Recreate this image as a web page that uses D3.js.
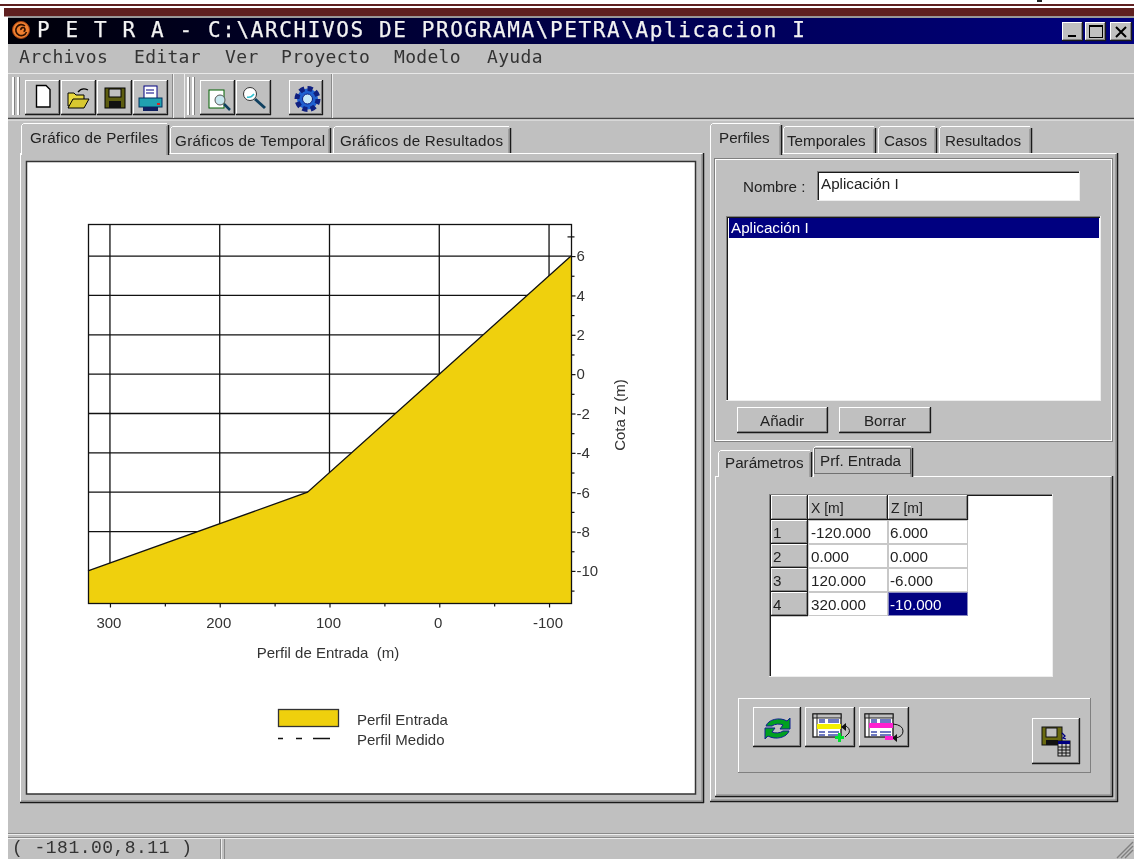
<!DOCTYPE html>
<html><head><meta charset="utf-8">
<script src="https://cdn.jsdelivr.net/npm/d3@7"></script>
<style>html,body{margin:0;padding:0;background:#fff;overflow:hidden}svg{display:block;filter:blur(0.35px)}</style>
</head><body><svg id="app" width="1134" height="859"></svg>
<script>
// ---- chart data ----
const profileX = [-120, 0, 120, 320];
const profileZ = [6, 0, -6, -10];
const xMajorTicks = [300, 200, 100, 0, -100];
const xMinorTicks = [250, 150, 50, -50];
const zMajorTicks = [6, 4, 2, 0, -2, -4, -6, -8, -10];
const zMinorTicks = [7, 5, 3, 1, -1, -3, -5, -7, -9, -11];
const xDomain = [320, -120];
const zDomain = [-11.63, 7.63];
// ---- interface text ----
const titleText = "P E T R A - C:\\ARCHIVOS DE PROGRAMA\\PETRA\\Aplicacion I";
const menuItems = ["Archivos", "Editar", "Ver", "Proyecto", "Modelo", "Ayuda"];
const chartTabs = ["Gráfico de Perfiles", "Gráficos de Temporal", "Gráficos de Resultados"];
const dataTabs = ["Perfiles", "Temporales", "Casos", "Resultados"];
const subTabs = ["Parámetros", "Prf. Entrada"];
const tableHeaders = ["X [m]", "Z [m]"];
const profileName = "Aplicación I";
const statusText = "( -181.00,8.11 )";

const svg = d3.select("#app");
const GREY="#c0c0c0", DARK="#808080", LIGHT="#ffffff", BLACK="#1a1a1a", NAVY="#000080";
const SANS="'Liberation Sans',Arial,sans-serif", MONO="'DejaVu Sans Mono',monospace", CMONO="'Liberation Mono',monospace";
const UI=15.2;
const hyphenLocale=d3.formatLocale({decimal:".",thousands:"",grouping:[3],currency:["",""],minus:"-"});

function rect(g,x,y,w,h,fill,stroke){return g.append("rect").attr("x",x).attr("y",y).attr("width",w).attr("height",h).attr("fill",fill||"none").attr("stroke",stroke||"none");}
function line(g,x1,y1,x2,y2,c,w){return g.append("line").attr("x1",x1).attr("y1",y1).attr("x2",x2).attr("y2",y2).attr("stroke",c).attr("stroke-width",w||1);}
function text(g,s,x,y,o={}){const t=g.append("text").attr("x",x).attr("y",y).text(s).attr("font-family",o.font||SANS).attr("font-size",o.size||UI).attr("fill",o.fill||"#222");if(o.anchor)t.attr("text-anchor",o.anchor);if(o.len)t.attr("textLength",o.len).attr("lengthAdjust","spacing");return t;}
function raised(g,x,y,w,h,fill){
  rect(g,x,y,w,h,fill||GREY);
  line(g,x,y+.5,x+w,y+.5,LIGHT);line(g,x+.5,y,x+.5,y+h,LIGHT);
  line(g,x,y+h-.5,x+w,y+h-.5,BLACK,1.3);line(g,x+w-.5,y,x+w-.5,y+h,BLACK,1.3);
  line(g,x+1,y+h-1.5,x+w-1,y+h-1.5,DARK);line(g,x+w-1.5,y+1,x+w-1.5,y+h-1,DARK);
}
function sunken(g,x,y,w,h,fill){
  rect(g,x,y,w,h,fill||LIGHT);
  line(g,x,y+.5,x+w,y+.5,DARK);line(g,x+.5,y,x+.5,y+h,DARK);
  line(g,x+1,y+1.5,x+w-1,y+1.5,BLACK);line(g,x+1.5,y+1,x+1.5,y+h-1,BLACK);
  line(g,x,y+h-.5,x+w,y+h-.5,"#eee");line(g,x+w-.5,y,x+w-.5,y+h,"#eee");
}
function tab(g,x,y,w,h){
  g.append("path").attr("d",`M${x},${y+h}V${y+2}L${x+2},${y}H${x+w-2}L${x+w},${y+2}V${y+h}Z`).attr("fill",GREY);
  g.append("path").attr("d",`M${x+.5},${y+h}V${y+2.5}L${x+2.5},${y+.5}H${x+w-2}`).attr("fill","none").attr("stroke",LIGHT);
  line(g,x+w-.5,y+2,x+w-.5,y+h,BLACK,1.5);line(g,x+w-2,y+3,x+w-2,y+h,DARK);
}
function panel(g,x,y,w,h){
  rect(g,x,y,w,h,GREY);
  line(g,x,y+.5,x+w,y+.5,LIGHT);line(g,x+.5,y,x+.5,y+h,LIGHT);
  line(g,x,y+h-.5,x+w,y+h-.5,BLACK,1.5);line(g,x+w-.5,y,x+w-.5,y+h,BLACK,1.5);
  line(g,x+1,y+h-2,x+w-1,y+h-2,DARK);line(g,x+w-2,y+1,x+w-2,y+h-1,DARK);
}

// ---- page & window ----
rect(svg,0,0,1134,859,"#fff");
rect(svg,0,4,1134,2,"#5f2020");
rect(svg,4,8,1130,8.5,"#5f2020");
rect(svg,1037,0,5,2,"#222");
rect(svg,8,16.5,1126,842.5,GREY);
line(svg,8,17,1134,17,"#8f8f8f",1.5);

const titleGrad=svg.append("defs").append("linearGradient").attr("id","tb");
titleGrad.append("stop").attr("offset","0").attr("stop-color","#000008");
titleGrad.append("stop").attr("offset","0.5").attr("stop-color","#000048");
titleGrad.append("stop").attr("offset","1").attr("stop-color",NAVY);
rect(svg,8,18,1126,26,"url(#tb)");
// app icon
svg.append("circle").attr("cx",21).attr("cy",30).attr("r",8.5).attr("fill","#f08030").attr("stroke","#a04010");
svg.append("path").attr("d","M25,26a5.5,5.5 0 1 0 1.5,6M21,30a2,2 0 1 1 2.5,1.5").attr("fill","none").attr("stroke","#301000").attr("stroke-width",1.6);
text(svg,titleText,37,37,{font:MONO,size:21,fill:"#f2f2f2",len:768}).attr("stroke","#f2f2f2").attr("stroke-width",.25);
// window buttons
[[1062,21],[1085,21],[1110,22]].forEach(([x,w])=>raised(svg,x,22,w,19));
rect(svg,1068,35,8,2,"#000");
rect(svg,1089.5,25.5,13,12,"none","#000");rect(svg,1089,25,14,2,"#000");
svg.append("path").attr("d","M1116,27L1126,37M1126,27L1116,37").attr("stroke","#000").attr("stroke-width",2);

// ---- menu ----
const menuX=[19,134,225,281,394,487];
menuItems.forEach((m,i)=>text(svg,m,menuX[i],63,{font:MONO,size:18,fill:"#333",len:m.length*11.1}));
line(svg,8,73.5,1134,73.5,"#e8e8e8");
line(svg,8,118.5,1134,118.5,"#444",1.5);
line(svg,8,120,1134,120,"#eee",1);

// ---- toolbars ----
line(svg,172.5,74,172.5,118,"#8a8a8a");line(svg,173.5,74,173.5,118,"#eee");
line(svg,184.5,74,184.5,118,"#eee");line(svg,331.5,74,331.5,118,"#8a8a8a");
line(svg,332.5,74,332.5,118,"#eee");
[12,17,187,192].forEach(x=>{rect(svg,x,77,2,38,LIGHT);rect(svg,x+2,77,1,38,DARK);});
[[25,35],[61,35],[97,35],[133,35],[200,35],[236,35],[289,34]].forEach(([x,w])=>raised(svg,x,80,w,35));
// new
svg.append("path").attr("d","M36.5,85.5H46L50,89.5V107H36.5Z").attr("fill","#fff").attr("stroke","#000").attr("stroke-width",1.4);
// open
svg.append("path").attr("d","M68,93H74L76,95H84V106H68Z").attr("fill","#e8d840").attr("stroke","#000");
svg.append("path").attr("d","M68,108L73,99H89L84,108Z").attr("fill","#d8c830").attr("stroke","#000");
svg.append("path").attr("d","M78,92Q82,87 88,90").attr("fill","none").attr("stroke","#000").attr("stroke-width",1.3);
// save
rect(svg,105,88,20,20,"#5c5c10","#000");rect(svg,109,89,12,8,"#c0c0c0","#000");rect(svg,109,101,12,7,"#111");
// print
rect(svg,144,86,13,14,"#fff","#000080");rect(svg,139,98,23,9,"#20a0b0","#003060");rect(svg,143,107,15,4,"#102060");
line(svg,146,90,154,90,"#000080");line(svg,146,93,154,93,"#000080");rect(svg,157,103,3,2,"#e02020");
// preview
rect(svg,209,90,15,18,"#fff","#006000");svg.append("circle").attr("cx",220).attr("cy",100).attr("r",5).attr("fill","#c8e8f0").attr("stroke","#555");
line(svg,224,104,230,110,"#104060",2.5);
// find
svg.append("circle").attr("cx",250).attr("cy",94).attr("r",6.5).attr("fill","#fff").attr("stroke","#333");
svg.append("path").attr("d","M247,97Q251,98 254,94").attr("stroke","#30c0d0").attr("stroke-width",1.5).attr("fill","none");
line(svg,255,99,265,108,"#104060",3);
// gear
svg.append("circle").attr("cx",307.5).attr("cy",99).attr("r",10.5).attr("fill","#2060d0").attr("stroke","#102080").attr("stroke-width",5).attr("stroke-dasharray","5 3.2");
svg.append("circle").attr("cx",307.5).attr("cy",99).attr("r",5).attr("fill","#c8e8f8").attr("stroke","#102080");

// ---- left tab control ----
panel(svg,20,153,684,650);
tab(svg,170,126,161,27);tab(svg,333,126,178,27);tab(svg,21,123,148,32);
text(svg,chartTabs[0],30,143,{len:128});
text(svg,chartTabs[1],175,146,{len:150});
text(svg,chartTabs[2],340,146,{len:163});
rect(svg,26.5,161.5,669,632.5,LIGHT,"#333").attr("stroke-width",1.5);

// ---- chart ----
const plot={left:88,right:571,top:224,bottom:603};
const x=d3.scaleLinear().domain(xDomain).range([plot.left,plot.right]);
const z=d3.scaleLinear().domain(zDomain).range([plot.bottom,plot.top]);
const chart=svg.append("g");
const profile=profileX.map((v,i)=>({x:v,z:profileZ[i]}));
const grid=chart.append("g");
grid.selectAll("line.v").data(xMajorTicks).join("line").attr("class","v")
  .attr("x1",d=>x(d)).attr("x2",d=>x(d)).attr("y1",plot.top).attr("y2",plot.bottom).attr("stroke","#111").attr("stroke-width",1.3);
grid.selectAll("line.h").data(zMajorTicks).join("line").attr("class","h")
  .attr("y1",d=>z(d)).attr("y2",d=>z(d)).attr("x1",plot.left).attr("x2",plot.right).attr("stroke","#111").attr("stroke-width",1.3);
const zMinorG=chart.append("g").attr("transform",`translate(${plot.right-3.5},0)`)
  .call(d3.axisRight(z).tickValues(zMinorTicks).tickSize(7).tickFormat(""));
chart.append("path").datum(profile)
  .attr("d",d3.area().x(d=>x(d.x)).y0(plot.bottom).y1(d=>z(d.z)))
  .attr("fill","#efd00d");
chart.append("path").datum(profile)
  .attr("d",d3.line().x(d=>x(d.x)).y(d=>z(d.z)))
  .attr("fill","none").attr("stroke","#111").attr("stroke-width",1.3);
rect(chart,plot.left+.5,plot.top+.5,plot.right-plot.left,plot.bottom-plot.top,"none","#111").attr("stroke-width",1.3);

const xAxisG=chart.append("g").attr("transform",`translate(0,${plot.bottom+.5})`)
  .call(d3.axisBottom(x).tickValues(xMajorTicks).tickSize(4).tickPadding(10).tickFormat(hyphenLocale.format("d")));
const xMinorG=chart.append("g").attr("transform",`translate(0,${plot.bottom+.5})`)
  .call(d3.axisBottom(x).tickValues(xMinorTicks).tickSize(3).tickFormat(""));
const zAxisG=chart.append("g").attr("transform",`translate(${plot.right+.5},0)`)
  .call(d3.axisRight(z).tickValues(zMajorTicks).tickSize(4).tickPadding(1).tickFormat(hyphenLocale.format("d")));
[xAxisG,xMinorG,zAxisG,zMinorG].forEach(g=>{
  g.select(".domain").remove();
  g.selectAll("line").attr("stroke","#111").attr("stroke-width",1.2);
  g.selectAll("text").attr("font-family",SANS).attr("font-size",15).attr("fill","#333");
});
xAxisG.selectAll("text").attr("dx",-1.5);
text(chart,"Perfil de Entrada  (m)",328,658,{anchor:"middle",size:15,fill:"#333"}).attr("xml:space","preserve");
text(chart,"Cota Z (m)",0,0,{anchor:"middle",size:15,fill:"#333"}).attr("transform","translate(625,415) rotate(-90)");

// legend
rect(chart,278.5,709.5,60,17,"#efd00d","#333").attr("stroke-width",1.3);
chart.append("line").attr("x1",278).attr("x2",330).attr("y1",738.5).attr("y2",738.5).attr("stroke","#111").attr("stroke-width",1.3).attr("stroke-dasharray","5 13 6 11 17");
text(chart,"Perfil Entrada",357,725,{size:15,fill:"#333"});
text(chart,"Perfil Medido",357,745,{size:15,fill:"#333"});

// ---- right tab control ----
panel(svg,710,153,408,649);
tab(svg,783,126,93,27);tab(svg,878,126,59,27);tab(svg,939,126,93,27);tab(svg,710,123,72,32);
text(svg,dataTabs[0],719,143);
text(svg,dataTabs[1],787,146);
text(svg,dataTabs[2],884,146);
text(svg,dataTabs[3],945,146);
// upper group
rect(svg,714.5,158.5,398,283,"none",DARK);rect(svg,715.5,159.5,396,281,"none",LIGHT);
text(svg,"Nombre :",743,192);
sunken(svg,817,171,263,30);
text(svg,profileName,821,189);
sunken(svg,726,216,375,185);
rect(svg,729,218,370,20,NAVY);
text(svg,profileName,731,233,{fill:"#fff"});
raised(svg,737,407,91,26);text(svg,"Añadir",782,426,{anchor:"middle"});
raised(svg,839,407,92,26);text(svg,"Borrar",885,426,{anchor:"middle"});

// lower tab
rect(svg,715,476,398,322,GREY);
line(svg,715,476.5,1112,476.5,LIGHT);line(svg,715.5,476,715.5,797,LIGHT);
line(svg,1112.5,476,1112.5,797,BLACK,1.5);line(svg,715,796.5,1113,796.5,BLACK,1.5);
line(svg,1111,477,1111,795,DARK);line(svg,716,795,1111,795,DARK);
tab(svg,718,450,94,27);tab(svg,813,446,100,31);
text(svg,subTabs[0],725,468);
text(svg,subTabs[1],820,466);
rect(svg,814.5,448.5,96,25,"none","#222").attr("stroke-dasharray","1 1");

// table
const tg=svg.append("g");
sunken(tg,769,494,284,183);
const colX=[771,808,888], colW=[37,80,80];
const rowH=24, headH=25, tableTop=495;
raised(tg,colX[0],tableTop,colW[0],headH);
tableHeaders.forEach((h,i)=>{raised(tg,colX[i+1],tableTop,colW[i+1],headH);text(tg,h,colX[i+1]+3,tableTop+18,{size:14});});
const fmt=hyphenLocale.format(".3f");
profile.forEach((d,i)=>{
  const y=tableTop+headH+i*rowH;
  raised(tg,colX[0],y,colW[0],rowH);
  text(tg,String(i+1),773,y+18);
  rect(tg,colX[1]+.5,y+.5,colW[1]-1,rowH-1,"#fff","#c8c8c8");
  text(tg,fmt(d.x),colX[1]+3,y+18);
  const sel=i===profile.length-1;
  rect(tg,colX[2]+.5,y+.5,colW[2]-1,rowH-1,sel?NAVY:"#fff",sel?"#8888c0":"#c8c8c8");
  text(tg,fmt(d.z),colX[2]+2,y+18,{fill:sel?"#fff":"#222"});
});

// lower button group
line(svg,738,698.5,1090,698.5,LIGHT);line(svg,738.5,698,738.5,772,LIGHT);
line(svg,738,772.5,1091,772.5,DARK);line(svg,1090.5,698,1090.5,773,DARK);
raised(svg,753,707,48,40);raised(svg,805,707,50,40);raised(svg,859,707,50,40);raised(svg,1032,718,48,46);
// refresh icon
svg.append("path").attr("d","M766,726a13,9 0 0 1 21,-5l3,-3v11h-10l3,-4a8,5 0 0 0 -11,1Z M789,731a13,9 0 0 1 -21,5l-3,3v-11h10l-3,4a8,5 0 0 0 11,-1Z")
  .attr("fill","#00a020").attr("stroke","#102090");
// table icons
function tblIcon(x0,band,bandY){
  rect(svg,x0,714,28,23,"#fff","#222").attr("stroke-width",1.4);rect(svg,x0,714,28,4,"#c0c0c0","#222");line(svg,x0+4,714,x0+4,737,"#222");
  [720,722,732,735].forEach(y=>{line(svg,x0+6,y,x0+12,y,"#2030a0",1.3);line(svg,x0+15,y,x0+26,y,"#2030a0",1.3);});
  rect(svg,x0+4,bandY,24,5,band);
}
tblIcon(813,"#f4f000",724);
svg.append("path").attr("d","M844,725q7,3 5,8l-4,4").attr("fill","none").attr("stroke","#111");
svg.append("path").attr("d","M841,727l5,-4v8Z").attr("fill","#111");
svg.append("path").attr("d","M838,733h3v3h3v3h-3v3h-3v-3h-3v-3h3Z").attr("fill","#00e030");
tblIcon(865,"#ff20d0",723);
svg.append("path").attr("d","M893,724q10,1 10,7q0,6 -8,7").attr("fill","none").attr("stroke","#111");
svg.append("path").attr("d","M892,738l5,-4v8Z").attr("fill","#111");
rect(svg,885,736,8,4,"#ff20d0");
// save-to-table icon
rect(svg,1042,727,20,18,"#6a6a10","#111");rect(svg,1046,728,11,9,"#c0c0c0","#111");rect(svg,1046,740,12,5,"#111");
rect(svg,1058,741,12,15,"#c8c8c8","#111");rect(svg,1058,741,12,3,"#000080");
[747,750,753].forEach(y=>line(svg,1058,y,1070,y,"#111"));[1062,1066].forEach(v=>line(svg,v,744,v,756,"#111"));
svg.append("path").attr("d","M1062,733l3,3l-2,2l3,1").attr("fill","none").attr("stroke","#000080").attr("stroke-width",1.3);

// ---- status bar ----
line(svg,8,833.5,1134,833.5,"#8a8a8a");line(svg,8,834.5,1134,834.5,"#eee");
line(svg,8,837.5,1134,837.5,"#8a8a8a");line(svg,8,838.5,1134,838.5,"#eee");
line(svg,220.5,839,220.5,859,"#8a8a8a");line(svg,221.5,839,221.5,859,"#eee");line(svg,224.5,839,224.5,859,"#8a8a8a");
text(svg,statusText,12,853,{font:CMONO,size:18,fill:"#333",len:180});
[0,4,8].forEach(o=>{
  svg.append("path").attr("d",`M${1133-o-8},858L1133,${858-o-8}`).attr("stroke","#808080").attr("stroke-width",1.5);
});
</script></body></html>
